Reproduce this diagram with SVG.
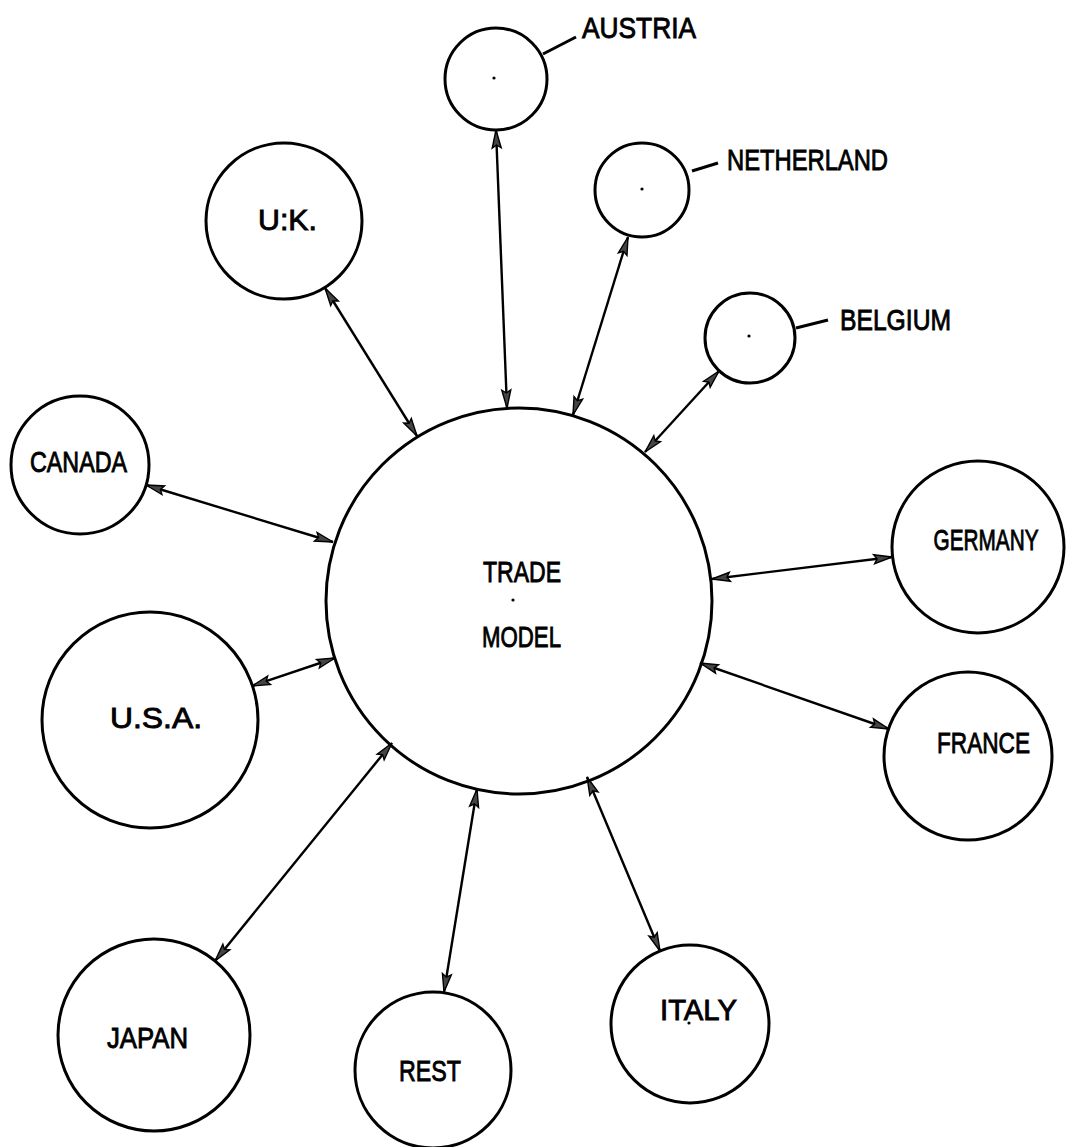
<svg xmlns="http://www.w3.org/2000/svg" width="1068" height="1147" viewBox="0 0 1068 1147">
<style>
.node circle.ring{fill:none;stroke:#000;stroke-width:3}
.dot{fill:#000}
text{font-family:"Liberation Sans",Arial,sans-serif;font-size:30px;fill:#000;stroke:#000;stroke-width:0.9}
.conn line{stroke:#000;stroke-width:2.4;marker-start:url(#ah);marker-end:url(#ah)}
.lead{stroke:#000;stroke-width:3;fill:none}
</style>
<defs>
<marker id="ah" markerUnits="userSpaceOnUse" markerWidth="26" markerHeight="14" viewBox="-22 -7 26 14" refX="0" refY="0" orient="auto-start-reverse">
<path d="M0,0 L-18,-4.5 L-15,0 L-18,4.5 Z" fill="#444" stroke="#000" stroke-width="1.4"/>
</marker>
</defs>
<rect width="1068" height="1147" fill="#fff"/>
<g id="connectors" class="conn">
<line x1="496" y1="130" x2="507" y2="408"/>
<line x1="628" y1="237" x2="573" y2="415"/>
<line x1="719" y1="371" x2="645" y2="452"/>
<line x1="325" y1="288" x2="417" y2="436"/>
<line x1="146" y1="485" x2="333" y2="542"/>
<line x1="252" y1="686" x2="335" y2="658"/>
<line x1="892" y1="557" x2="712" y2="579"/>
<line x1="889" y1="729" x2="700" y2="663"/>
<line x1="215" y1="961" x2="392" y2="743"/>
<line x1="444" y1="992" x2="477" y2="789"/>
<line x1="660" y1="951" x2="587" y2="777"/>
</g>
<g id="trade-model" class="node">
<circle class="ring" cx="519" cy="601" r="193"/>
<circle class="dot" cx="513" cy="600" r="1.6"/>
<text x="483" y="582" textLength="78" lengthAdjust="spacingAndGlyphs">TRADE</text>
<text x="482" y="647" textLength="79" lengthAdjust="spacingAndGlyphs">MODEL</text>
</g>
<g id="austria" class="node">
<circle class="ring" cx="496" cy="79" r="51"/>
<circle class="dot" cx="494" cy="78" r="1.6"/>
<path class="lead" d="M543,54 L576,37"/>
<text x="582" y="38" textLength="114" lengthAdjust="spacingAndGlyphs">AUSTRIA</text>
</g>
<g id="netherland" class="node">
<circle class="ring" cx="642" cy="190" r="47"/>
<circle class="dot" cx="642" cy="189" r="1.6"/>
<path class="lead" d="M692,171 L718,163"/>
<text x="727" y="170" textLength="161" lengthAdjust="spacingAndGlyphs">NETHERLAND</text>
</g>
<g id="belgium" class="node">
<circle class="ring" cx="750" cy="338" r="45"/>
<circle class="dot" cx="749" cy="336" r="1.6"/>
<path class="lead" d="M796,328 L828,320"/>
<text x="840" y="330" textLength="111" lengthAdjust="spacingAndGlyphs">BELGIUM</text>
</g>
<g id="uk" class="node">
<circle class="ring" cx="284" cy="221" r="78"/>
<text x="258" y="230" textLength="59" lengthAdjust="spacingAndGlyphs">U:K.</text>
</g>
<g id="canada" class="node">
<circle class="ring" cx="80" cy="465" r="69"/>
<text x="30" y="472" textLength="97" lengthAdjust="spacingAndGlyphs">CANADA</text>
</g>
<g id="usa" class="node">
<circle class="ring" cx="150" cy="720" r="108"/>
<text x="110" y="728" textLength="92" lengthAdjust="spacingAndGlyphs">U.S.A.</text>
</g>
<g id="germany" class="node">
<circle class="ring" cx="978" cy="547" r="86"/>
<text x="986" y="550" text-anchor="middle" textLength="105" lengthAdjust="spacingAndGlyphs">GERMANY</text>
</g>
<g id="france" class="node">
<circle class="ring" cx="968" cy="756" r="84"/>
<text x="937" y="753" textLength="93" lengthAdjust="spacingAndGlyphs">FRANCE</text>
</g>
<g id="japan" class="node">
<circle class="ring" cx="154" cy="1035" r="96"/>
<text x="107" y="1048" textLength="81" lengthAdjust="spacingAndGlyphs">JAPAN</text>
</g>
<g id="rest" class="node">
<circle class="ring" cx="433" cy="1070" r="78"/>
<text x="399" y="1081" textLength="62" lengthAdjust="spacingAndGlyphs">REST</text>
</g>
<g id="italy" class="node">
<circle class="ring" cx="690" cy="1024" r="79"/>
<circle class="dot" cx="689" cy="1023" r="1.6"/>
<text x="660" y="1020" textLength="77" lengthAdjust="spacingAndGlyphs">ITALY</text>
</g>
</svg>
